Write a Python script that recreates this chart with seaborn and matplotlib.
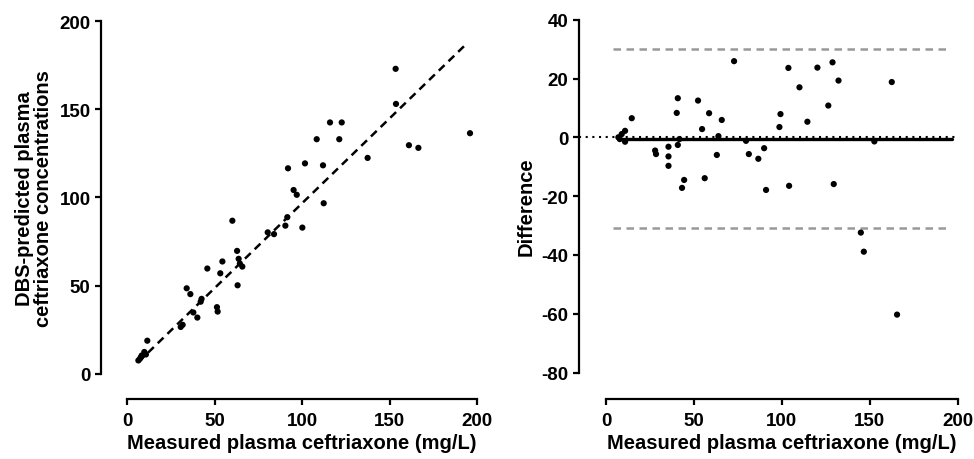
import matplotlib
matplotlib.use("Agg")
import matplotlib.pyplot as plt
import seaborn as sns
import numpy as np
import pandas as pd

# Left panel: measured vs DBS-predicted ceftriaxone (mg/L)
measured = [153.5, 153.7, 116, 122.7, 108.4, 121.3, 196, 161.1, 166.5, 137.5,
            92, 101.7, 112, 95.2, 97, 112.4, 60.2, 91.6, 90.5, 100.2,
            80.4, 84, 62.9, 54.5, 63.8, 64.5, 65.9, 45.9, 53.3, 63.2,
            34.1, 36.2, 42.1, 42.6, 37.9, 40.2, 51.4, 51.8, 30.7, 31.8,
            11.6, 9.9, 8.4, 7.4, 6.5, 8.0, 10.8]
predicted = [172.9, 153.0, 142.5, 142.5, 133.0, 133.0, 136.4, 129.6, 128.1, 122.4,
             116.5, 119.3, 118.2, 104.2, 101.5, 96.7, 86.8, 88.8, 84.0, 82.9,
             80.2, 79.2, 69.7, 63.7, 65.2, 62.5, 60.8, 59.7, 57.0, 50.2,
             48.5, 45.2, 40.9, 42.5, 34.8, 31.9, 37.8, 35.3, 26.6, 27.8,
             18.8, 12.4, 10.4, 8.6, 7.6, 9.5, 11.0]
fit_range = [6.5, 194.1]
fit_slope = 0.962
fit_intercept = 0.45

# Right panel: Bland-Altman
ba_x = [72.8, 103.7, 120.2, 128.8, 132.2, 162.5, 110, 126.4, 40.8, 52.3,
        40.2, 58.6, 99.2, 14.6, 65.8, 114.5, 54.6, 98.6, 63.9, 79.6,
        152.6, 10.8, 8.9, 7.0, 10.8, 7.8, 41.7, 27.9, 28.4, 35.5,
        40.8, 35.5, 35.5, 63.0, 81.2, 86.6, 89.9, 44.4, 43.2, 56.1,
        91.0, 104.1, 129.5, 144.9, 146.6, 165.5]
ba_diff = [25.9, 23.6, 23.7, 25.5, 19.3, 18.8, 17.0, 10.8, 13.3, 12.5,
           8.3, 8.2, 7.9, 6.5, 5.9, 5.3, 2.8, 3.5, 0.4, -1.2,
           -1.4, 2.2, 1.1, 0.0, -1.5, -0.6, -0.6, -4.5, -5.7, -3.2,
           -2.6, -6.5, -9.7, -6.0, -5.7, -7.3, -3.7, -14.5, -17.2, -13.9,
           -17.9, -16.5, -15.9, -32.4, -38.9, -60.3]
ba_bias = -0.6
ba_upper = 30.0
ba_lower = -31.0
loa_range = [4, 194]
bias_range = [8.9, 196.6]

sns.set_style("ticks")
plt.rcParams['font.family'] = ['Liberation Sans', 'DejaVu Sans']
plt.rcParams['font.weight'] = 'bold'
plt.rcParams['axes.labelweight'] = 'bold'
plt.rcParams['axes.labelcolor'] = 'black'
plt.rcParams['text.color'] = 'black'
plt.rcParams['axes.unicode_minus'] = False

W, H = 974, 460
fig = plt.figure(figsize=(9.74, 4.6), dpi=100)

def px_axes(l, r, t, b):
    """Add axes from pixel edges (origin top-left)."""
    return fig.add_axes([l / W, 1 - b / H, (r - l) / W, (b - t) / H])

def style(ax, xb, yb):
    """Prism-like look: detached, trimmed left/bottom spines."""
    for s in ['top', 'right']:
        ax.spines[s].set_visible(False)
    for s in ['left', 'bottom']:
        ax.spines[s].set_linewidth(1.6)
        ax.spines[s].set_color('black')
    ax.spines['bottom'].set_bounds(*xb)
    ax.spines['left'].set_bounds(*yb)
    ax.tick_params(width=1.6, length=4.5, labelsize=13.5, colors='black')
    ax.tick_params(axis='x', pad=5)
    ax.tick_params(axis='y', pad=3)
    for lab in ax.get_xticklabels() + ax.get_yticklabels():
        lab.set_fontweight('bold')

# Left panel
ax1 = px_axes(101, 477, 22, 400)
df1 = pd.DataFrame({'measured': measured, 'predicted': predicted})
sns.scatterplot(data=df1, x='measured', y='predicted', color='black', s=20,
                edgecolor='none', ax=ax1)
fx = np.array(fit_range)
ax1.plot(fx, fit_slope * fx + fit_intercept, ls=(0, (3.2, 2.2)), color='black', lw=1.8)
ax1.set_xlim(-14.86, 200)
ax1.set_ylim(-14.25, 200)
ax1.set_xticks([0, 50, 100, 150, 200])
ax1.set_yticks([0, 50, 100, 150, 200])
ax1.set_xlabel('Measured plasma ceftriaxone (mg/L)', fontsize=14.5, fontweight='bold', labelpad=3)
ax1.set_ylabel('DBS-predicted plasma\nceftriaxone concentrations', fontsize=14.5,
               fontweight='bold', labelpad=5, linespacing=1.0)
style(ax1, (0, 200), (0, 200))
ax1.xaxis.label.set_x(0.535)
ax1.yaxis.label.set_y(0.534)

# Right panel
ax2 = px_axes(579, 957.7, 20.7, 400)
df2 = pd.DataFrame({'avg': ba_x, 'diff': ba_diff})
ax2.axhline(0, color='black', ls=(0, (1, 2.2)), lw=1.5, zorder=1)
ax2.plot(bias_range, [ba_bias, ba_bias], color='black', lw=2.4, zorder=2)
ax2.plot(loa_range, [ba_upper, ba_upper], color='#999999', ls=(0, (3, 2.2)), lw=1.8)
ax2.plot(loa_range, [ba_lower, ba_lower], color='#999999', ls=(0, (3, 2.2)), lw=1.8)
sns.scatterplot(data=df2, x='avg', y='diff', color='black', s=20,
                edgecolor='none', ax=ax2, zorder=3)
ax2.set_xlim(-15.4, 200)
ax2.set_ylim(-89, 40)
ax2.set_xticks([0, 50, 100, 150, 200])
ax2.set_yticks([-80, -60, -40, -20, 0, 20, 40])
ax2.set_xlabel('Measured plasma ceftriaxone (mg/L)', fontsize=14.5, fontweight='bold', labelpad=3)
ax2.set_ylabel('Difference', fontsize=14.5, fontweight='bold', labelpad=4)
style(ax2, (0, 200), (-80, 40))
ax2.xaxis.label.set_x(0.536)
ax2.yaxis.label.set_y(0.51)

fig.savefig('out.png', dpi=100)
